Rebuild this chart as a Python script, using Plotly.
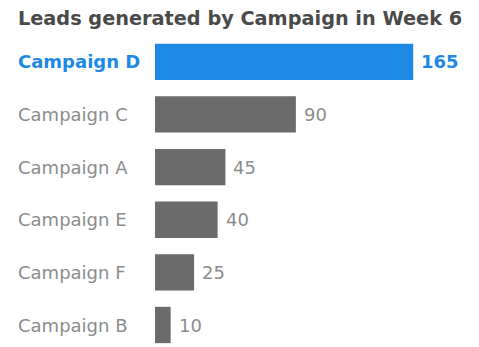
import plotly.graph_objects as go

# data, top to bottom
campaigns = ["Campaign D", "Campaign C", "Campaign A", "Campaign E", "Campaign F", "Campaign B"]
leads = [165, 90, 45, 40, 25, 10]
highlight = "Campaign D"

BLUE = "#1e88e5"
GREY = "#6b6b6b"
LABEL_GREY = "#8c8c8c"

colors = [BLUE if c == highlight else GREY for c in campaigns]

fig = go.Figure()
fig.add_trace(go.Bar(
    x=leads, y=campaigns, orientation="h",
    marker=dict(color=colors, line=dict(width=0)),
    hoverinfo="skip",
))

# page body adds an 8px offset, so margins are 8px smaller than what we see
left = 147
right = 19
plot_w = 479 - left - right
x_max = 200

# category labels, left aligned
for c in campaigns:
    hl = c == highlight
    fig.add_annotation(
        x=-(left - 8) / plot_w, xref="paper", y=c, yref="y",
        text="<b>%s</b>" % c if hl else c, showarrow=False, xanchor="left",
        font=dict(family="DejaVu Sans", size=18, color=BLUE if hl else LABEL_GREY),
    )

# value labels
for c, v in zip(campaigns, leads):
    hl = c == highlight
    fig.add_annotation(
        x=v, y=c, text="<b>%d</b>" % v if hl else str(v), showarrow=False,
        xanchor="left", xshift=6,
        font=dict(family="DejaVu Sans", size=18, color=BLUE if hl else LABEL_GREY),
    )

fig.update_layout(
    width=479, height=347,
    margin=dict(l=left, r=right, t=28, b=0),
    paper_bgcolor="white", plot_bgcolor="white",
    bargap=0.31,
    showlegend=False,
    title=dict(
        text="<b>Leads generated by Campaign in Week 6</b>",
        x=10 / 479, xanchor="left", y=1 - 10 / 347, yanchor="middle",
        font=dict(family="DejaVu Sans", size=19.3, color="#4a4a4a"),
    ),
    xaxis=dict(range=[0, x_max], visible=False, fixedrange=True),
    yaxis=dict(
        categoryorder="array", categoryarray=campaigns,
        range=[5.57, -0.49], showticklabels=False, showgrid=False,
        zeroline=False, fixedrange=True,
    ),
)

fig.write_html("out.html", config={"displayModeBar": False})
